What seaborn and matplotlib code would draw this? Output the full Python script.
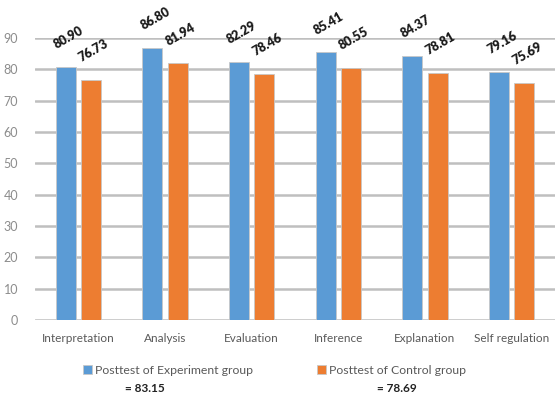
import matplotlib
matplotlib.use("Agg")
import matplotlib.pyplot as plt
import seaborn as sns
import pandas as pd

categories = ["Interpretation", "Analysis", "Evaluation", "Inference", "Explanation", "Self regulation"]
experiment = [80.90, 86.80, 82.29, 85.41, 84.37, 79.16]
control = [76.73, 81.94, 78.46, 80.55, 78.81, 75.69]
series_names = ["Posttest of Experiment group", "Posttest of Control group"]
series_means = ["= 83.15", "= 78.69"]
yticks = [0, 10, 20, 30, 40, 50, 60, 70, 80, 90]

df = pd.DataFrame({
    "category": categories * 2,
    "score": experiment + control,
    "group": [series_names[0]] * len(categories) + [series_names[1]] * len(categories),
})

sns.set_theme(style="white")
plt.rcParams["font.family"] = ["Lato", "DejaVu Sans"]

fig = plt.figure(figsize=(5.55, 3.99), dpi=100)
ax = fig.add_axes([35 / 555, (399 - 320) / 399, 520 / 555, (320 - 38) / 399])

palette = {series_names[0]: "#5B9BD5", series_names[1]: "#ED7D31"}
sns.barplot(data=df, x="category", y="score", hue="group", palette=palette,
            width=0.58, gap=0.2, ax=ax, legend=True, saturation=1,
            edgecolor="#c8c8c8", linewidth=0.6, zorder=3)

ax.set_ylim(0, 90)
ax.set_xlim(-0.5, 5.5)
ax.set_yticks(yticks)
ax.yaxis.grid(True, color="#bfbfbf", linewidth=1.8, zorder=0)
ax.set_axisbelow(True)
for s in ax.spines.values():
    s.set_visible(False)
ax.set_xlabel("")
ax.set_ylabel("")
ax.tick_params(axis="y", length=0, pad=12, labelsize=9, labelcolor="#8c8c8c")
ax.tick_params(axis="x", length=0, pad=9, labelsize=8.5, labelcolor="#595959")

# value labels, rotated, above each bar
for container in ax.containers:
    for bar in container:
        h = bar.get_height()
        cx = bar.get_x() + bar.get_width() / 2
        ax.annotate(f"{h:.2f}", (cx, h), xytext=(2, 21), textcoords="offset points",
                    ha="center", va="center", rotation=30, fontsize=9,
                    fontweight="heavy", color="#1a1a1a", annotation_clip=False)

# legend below the axis, with the group means underneath
leg = ax.get_legend()
handles = leg.legend_handles
leg.remove()
fig.legend(handles, series_names, loc="center", bbox_to_anchor=(0.495, 1 - 370 / 399),
           ncol=2, frameon=False, fontsize=8.8, handlelength=0.7, handleheight=0.7,
           handletextpad=0.3, columnspacing=5.2, labelcolor="#595959")
fig.text(145 / 555, 1 - 389 / 399, series_means[0], ha="center", va="center",
         fontsize=8.5, fontweight="bold", color="#222222")
fig.text(397 / 555, 1 - 389 / 399, series_means[1], ha="center", va="center",
         fontsize=8.5, fontweight="bold", color="#222222")

fig.savefig("out.png", dpi=100)
